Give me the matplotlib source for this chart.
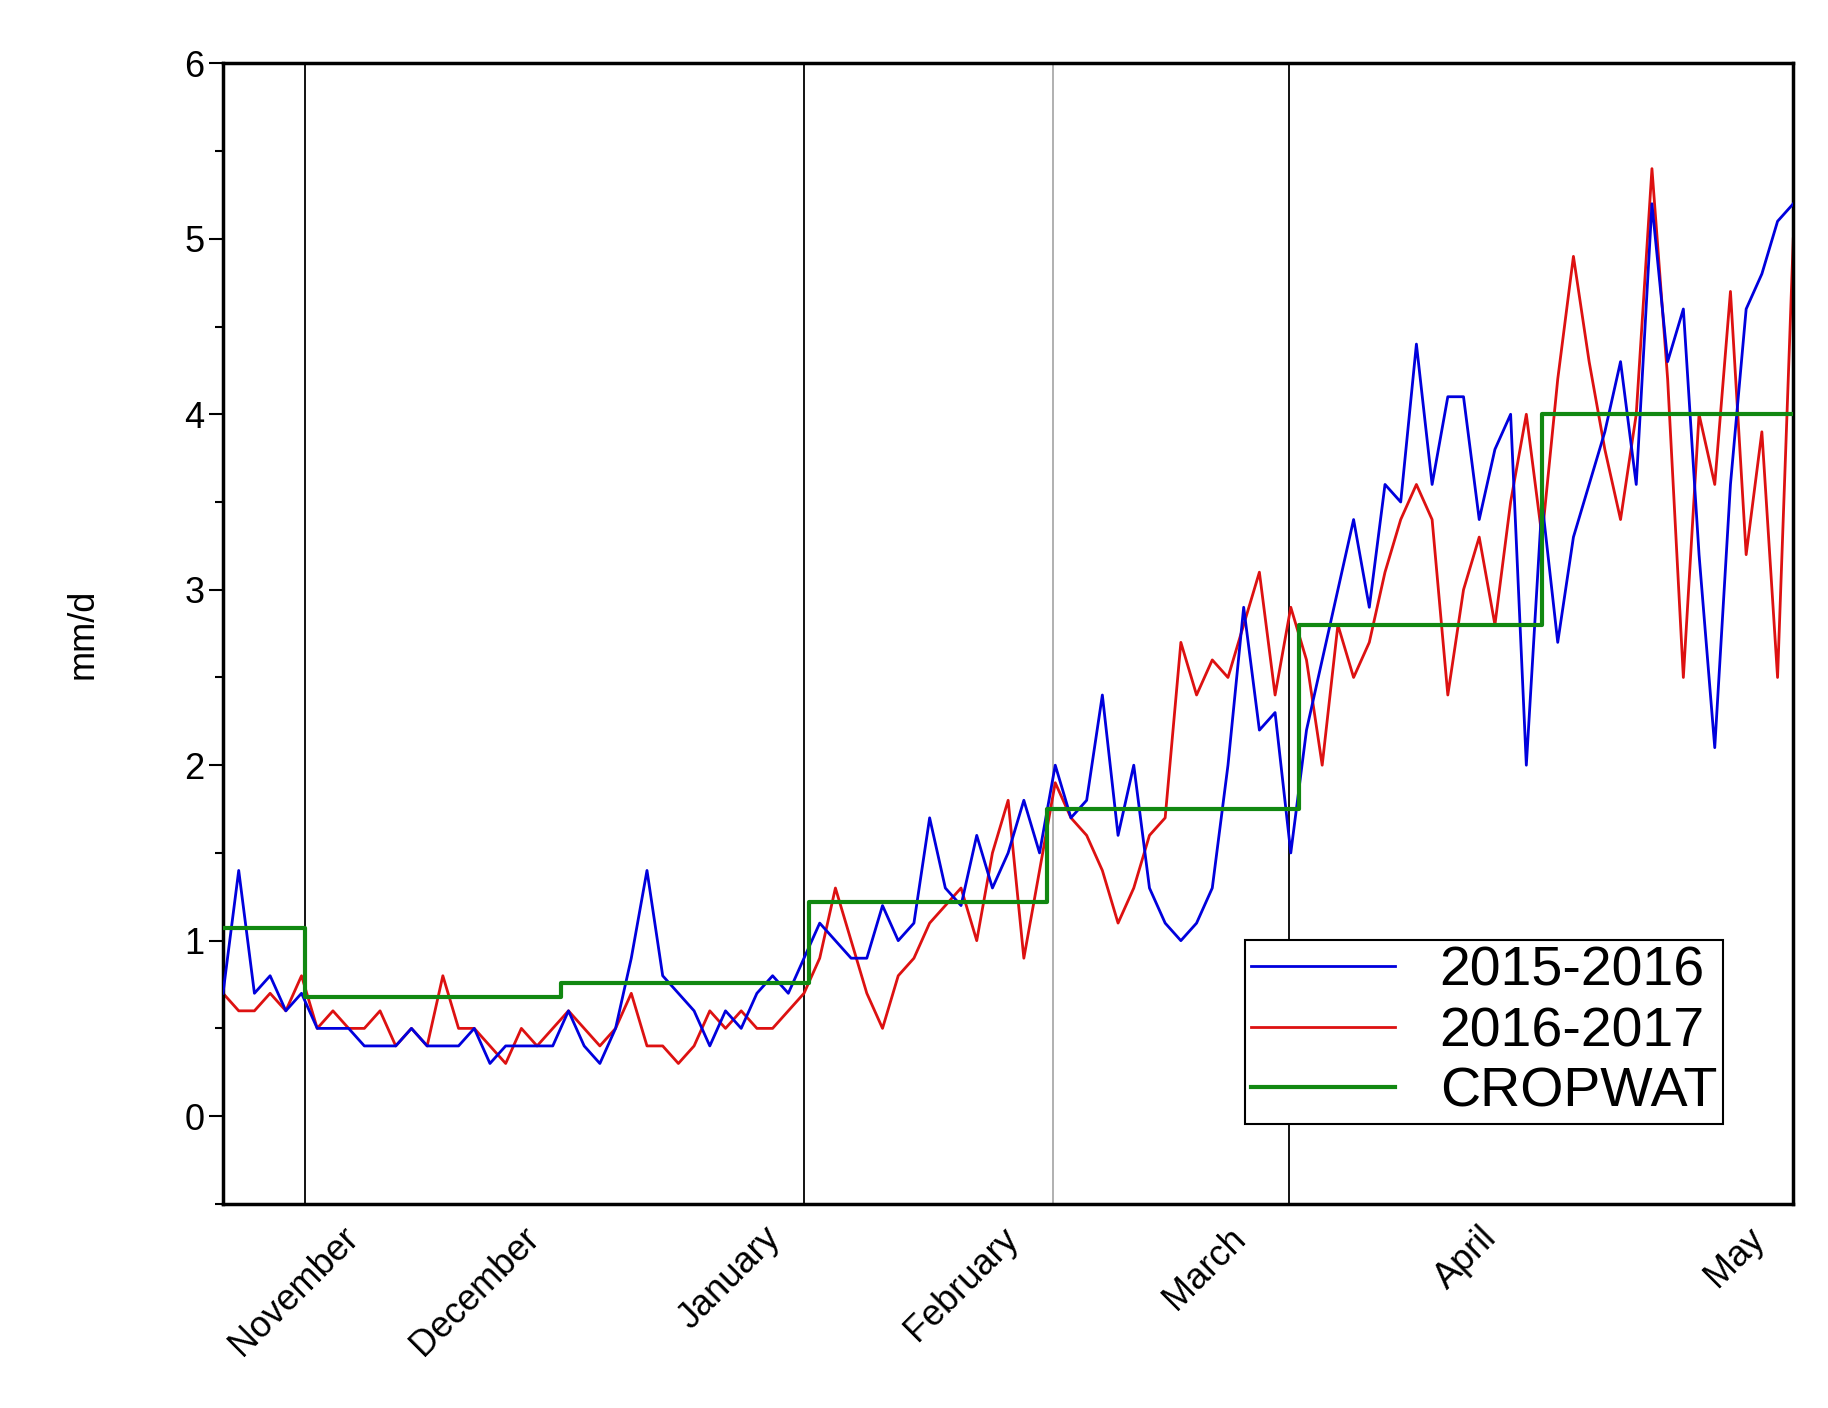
import matplotlib
matplotlib.use("Agg")
import matplotlib.pyplot as plt
import numpy as np

plt.rcParams['font.family'] = ['Liberation Sans', 'DejaVu Sans']

days = list(range(0, 201, 2))
blue = [0.7,1.4,0.7,0.8,0.6,0.7,0.5,0.5,0.5,0.4,0.4,0.4,0.5,0.4,0.4,0.4,0.5,0.3,0.4,0.4,
        0.4,0.4,0.6,0.4,0.3,0.5,0.9,1.4,0.8,0.7,0.6,0.4,0.6,0.5,0.7,0.8,0.7,0.9,1.1,1.0,
        0.9,0.9,1.2,1.0,1.1,1.7,1.3,1.2,1.6,1.3,1.5,1.8,1.5,2.0,1.7,1.8,2.4,1.6,2.0,1.3,
        1.1,1.0,1.1,1.3,2.0,2.9,2.2,2.3,1.5,2.2,2.6,3.0,3.4,2.9,3.6,3.5,4.4,3.6,4.1,4.1,
        3.4,3.8,4.0,2.0,3.5,2.7,3.3,3.6,3.9,4.3,3.6,5.2,4.3,4.6,3.2,2.1,3.6,4.6,4.8,5.1,5.2]
red = [0.7,0.6,0.6,0.7,0.6,0.8,0.5,0.6,0.5,0.5,0.6,0.4,0.5,0.4,0.8,0.5,0.5,0.4,0.3,0.5,
       0.4,0.5,0.6,0.5,0.4,0.5,0.7,0.4,0.4,0.3,0.4,0.6,0.5,0.6,0.5,0.5,0.6,0.7,0.9,1.3,
       1.0,0.7,0.5,0.8,0.9,1.1,1.2,1.3,1.0,1.5,1.8,0.9,1.4,1.9,1.7,1.6,1.4,1.1,1.3,1.6,
       1.7,2.7,2.4,2.6,2.5,2.8,3.1,2.4,2.9,2.6,2.0,2.8,2.5,2.7,3.1,3.4,3.6,3.4,2.4,3.0,
       3.3,2.8,3.5,4.0,3.3,4.2,4.9,4.3,3.8,3.4,4.0,5.4,4.2,2.5,4.0,3.6,4.7,3.2,3.9,2.5,5.0]
crop_edges = [0, 10.4, 43, 74.6, 105, 137, 168, 200]
crop_vals = [1.07, 0.68, 0.76, 1.22, 1.75, 2.8, 4.0]
months = ["November", "December", "January", "February", "March", "April", "May"]
month_pos = [15, 38, 68.7, 99, 128, 160, 194]
vlines = [10.4, 74, 105.7, 135.8]

fig = plt.figure(figsize=(18.28, 14.08), dpi=100)
ax = fig.add_axes([0.122, 0.145, 0.859, 0.81])
for i, v in enumerate(vlines):
    ax.axvline(v, color="#aaaaaa" if i == 2 else "black", lw=1.3, zorder=1)
ax.plot(days, blue, color="#0000dd", lw=2, label="2015-2016", zorder=3)
ax.plot(days, red, color="#dd1111", lw=2, label="2016-2017", zorder=2)
ax.step(crop_edges, crop_vals + [crop_vals[-1]], where="post", color="#118811", lw=3,
        label="CROPWAT", zorder=4)
ax.set_xlim(0, 200)
ax.set_ylim(-0.5, 6)
ax.set_yticks(range(0, 7))
ax.set_yticks(np.arange(-0.5, 6.0, 1.0), minor=True)
ax.tick_params(axis="y", labelsize=26, length=10, width=1.5, direction="out")
ax.tick_params(axis="y", which="minor", length=6, width=1.5)
ax.set_xticks(month_pos)
ax.set_xticklabels(months, rotation=45, ha="right", rotation_mode="anchor", fontsize=26)
ax.tick_params(axis="x", length=0, pad=12)
ax.set_ylabel("mm/d", fontsize=26, labelpad=60)
for s in ax.spines.values():
    s.set_linewidth(2.5)
leg = ax.legend(loc="lower right", bbox_to_anchor=(0.955, 0.07), fontsize=40,
                fancybox=False, edgecolor="black", framealpha=1, handlelength=2.6,
                borderpad=0.1, labelspacing=0.15, borderaxespad=0)
leg.get_frame().set_linewidth(1.5)
fig.savefig("out.png", dpi=100)
